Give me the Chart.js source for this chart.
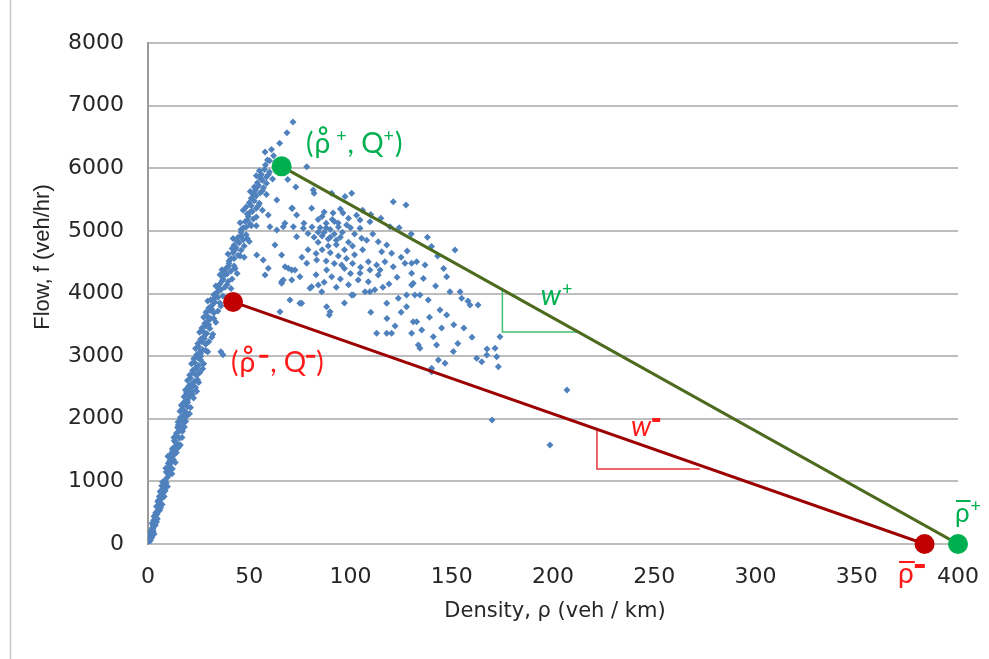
<!DOCTYPE html>
<html>
<head>
<meta charset="utf-8">
<script src="https://cdn.jsdelivr.net/npm/chart.js@4.4.0/dist/chart.umd.min.js"></script>
<style>
  html, body { margin: 0; padding: 0; background: #fff; }
  #wrap { width: 989px; height: 659px; }
</style>
</head>
<body>
<div id="wrap"><canvas id="chart" width="989" height="659"></canvas></div>
<script>
// density (veh/km), flow (veh/hr) pairs
const freeFlowPoints = [
  [0.5,30],[1,80],[1.5,120],[0.8,150],[2,190],[1.2,210],[2.5,240],[3,160],[1.8,100],[2.2,260],
  [2.5,300],[3.2,340],[2.8,380],[4,420],[3.5,460],[4.5,480],[3,440],[4.2,350],
  [4.5,520],[5.5,560],[5,610],[6,650],[5.2,700],[6.5,720],[4.8,680],[6.2,580],
  [6.5,780],[7.5,820],[7,870],[8.2,900],[7.8,950],[9,980],[6.8,930],[8.5,850],
  [8.5,1020],[9.5,1060],[10.2,1100],[9,1150],[11,1180],[10.5,1230],[8.8,1210],[11.8,1120],
  [10.5,1270],[11.5,1300],[12.5,1350],[11,1400],[13,1430],[12.2,1480],[14,1460],[10.8,1330],
  [12,1520],[13.5,1560],[14.5,1600],[13,1650],[15.5,1690],[14,1720],[16,1580],[12.8,1700],
  [14,1770],[15.5,1800],[16.5,1850],[15,1900],[17.5,1930],[16,1980],[18,1870],[14.8,1950],
  [16,2020],[17.5,2060],[18.5,2110],[17,2150],[19.5,2190],[18,2230],[20.5,2080],[16.8,2200],[16.5,2220],
  [18,2270],[19.5,2300],[20.5,2360],[19,2410],[21.5,2440],[20,2480],[22.5,2330],[18.5,2460],[24,2440],
  [20,2520],[21.5,2560],[23,2600],[21,2650],[24,2690],[22.5,2730],[19.5,2610],[25,2580],
  [22,2770],[23.5,2810],[25,2850],[23,2900],[26,2940],[24.5,2980],[21.5,2880],[27,2800],
  [24,3020],[25.5,3060],[27,3100],[25,3150],[28.5,3190],[26.5,3230],[23.5,3120],[29.5,3070],[36,3070],[37,3020],
  [26,3270],[27.5,3310],[29,3360],[27,3400],[30.5,3440],[28.5,3480],[25.5,3380],[31.5,3300],
  [28,3520],[29.5,3560],[31,3600],[29,3650],[32.5,3690],[30.5,3730],[27.5,3620],[33.5,3540],
  [30,3770],[31.5,3810],[33,3860],[31,3900],[34.5,3940],[32.5,3980],[29.5,3880],[36,3800],
  [34,4020],[36,4060],[38,4100],[35.5,4150],[39.5,4190],[37,4230],[33.5,4120],[41,4080],
  [37,4270],[39,4310],[41,4360],[38.5,4400],[42.5,4440],[40,4480],[36.5,4380],[44,4320],
  [40,4520],[42.5,4560],[44.5,4610],[42,4650],[46,4690],[43.5,4730],[39.5,4630],[47.5,4580],
  [42.5,4770],[45,4810],[47,4860],[44.5,4900],[48.5,4940],[46,4980],[42,4880],[50,4830],
  [46,5020],[48.5,5060],[50.5,5110],[48,5150],[52,5190],[49.5,5230],[45.5,5130],[53.5,5080],
  [49,5270],[51.5,5310],[53.5,5360],[51,5400],[55,5440],[52.5,5480],[48.5,5380],[56.5,5330],
  [51,5520],[53.5,5560],[55.5,5610],[53,5650],[57,5690],[54.5,5730],[50.5,5630],[58.5,5580],
  [54,5770],[56.5,5810],[58.5,5860],[56,5900],[60,5940],[57.5,5980],[53.5,5880],[61.5,5830],
  [58,6050],[60,6120],[59,6130],[57.8,6260],[65,6400],[68.6,6565],[71.6,6740],[62,6200],[63,6100],[61,6300]
];

// second pass over the same band, filling between the first readings
const freeFlowFill = [
  [1.2,60],[0.6,110],[2.6,200],[3.6,300],[2,330],[4.6,400],[3.8,500],
  [5.8,540],[4.2,600],[7,630],[5.6,760],[8,760],[7.2,990],[9.6,920],[6,840],
  [9.6,1140],[12,1200],[10,1290],[13.5,1300],[11.6,1450],[9.8,1400],[13.2,1520],
  [15,1540],[13.6,1620],[16.8,1700],[17,1800],[14.6,1860],[18.6,1960],[17,2000],
  [19,2040],[15.8,2120],[21,2180],[19.6,2260],[17.8,2350],[22,2390],[21,2470],[23.5,2500],
  [22,2540],[24.5,2620],[20.6,2700],[25.6,2740],[24,2800],[27.5,2880],[22.6,2960],[26,3000],
  [26,3040],[28.5,3090],[24.6,3200],[30,3230],[27.8,3280],[32,3350],[26.6,3450],[30,3500],
  [30,3580],[32.5,3600],[28.6,3700],[34.5,3720],[31.5,3750],[35.5,3850],[33,3930],[37,3960],
  [35,4080],[39,4140],[36.6,4200],[41.5,4230],[38,4330],[43,4400],[39.6,4430],[35.6,4300],
  [41,4560],[45.5,4600],[43,4700],[47.5,4760],[44,4840],[49,4880],[46,4920],[41.5,4720],
  [47,5050],[51,5080],[49,5170],[53.5,5220],[50.5,5300],[54.5,5400],[50,5450],[47,5330],
  [52,5580],[56.5,5640],[54,5700],[58.5,5760],[55.5,5840],[59.5,5900],[55,5960],[52.5,5700]
];

const congestedPoints = [
  [81.6,5653],[82,5600],[90.7,5600],[97.3,5547],[100.6,5600],[121.1,5467],[127.4,5414],[71,5361],[80.8,5361],
  [67.6,5121],[73.4,5254],[91.4,5286],[96.3,5286],[93.9,5126],[98.1,5094],[104.7,5174],[109.6,5147],[104.7,5041],
  [105.5,4882],[113.7,4828],[119.5,5067],[117.9,4775],[115.4,4668],[120.3,4642],[121.1,4429],[117,4508],
  [112.9,4455],[114.6,4376],[108.8,4508],[109.6,4376],[104.7,4323],[103.8,4216],[108.8,4189],[113.7,4296],
  [109.6,4029],[107.2,4029],[100.6,3976],[95.6,4455],[90.7,4269],[85.8,4029],[80.8,4109],[75,4269],[71,4216],
  [66.8,4216],[69.3,4402],[72.6,4376],[78.4,4482],[83.3,4535],[88.2,4376],[75.9,3844],[88.2,3790],[89.5,3657],
  [101.4,3976],[117.9,3844],[123.6,3924],[127.7,3976],[130.2,4136],[131.8,3976],[134.3,3976],[127.7,3790],
  [138.4,3897],[130.2,4323],[131,4163],[126.9,4482],[130.2,4482],[136.8,4455],[147.5,4269],[149.1,4029],
  [154.1,4029],[154.9,3924],[159,3817],[144.2,3737],[147.5,3657],[151.6,4695],[132.7,4508],[112.9,3364],
  [117.9,3364],[120.3,3364],[130.2,3364],[131,3550],[132.7,3550],[135.2,3418],[140.9,3311],[142.5,3178],
  [133.5,3178],[134.3,3125],[150.8,3072],[143.4,2938],[146.7,2886],[140.1,2806],[162.3,2966],[167.3,3018],
  [171.4,3125],[173.8,3311],[172.2,2991],[164.8,2912],[173,2832],[140.1,2752],[169.9,1980],[198.5,1581],
  [206.9,2459],[163,3817],[167.4,3114],
  [78.4,6025],[71.3,5361],[63.6,5494],[59.4,5254],[60.2,5067],[63.6,5014],[66.8,5067],[71.8,5067],[76.7,5041],
  [73.4,4908],[53.7,4616],[56.9,4535],[59.4,4402],[66,4616],[67.7,4429],[71,4376],[66,4189],[57.8,4296],
  [70.1,3897],[75,3844],[62.7,4775],[66,4163],[80,4083],[84.1,4136],[65.2,3710],[89.9,3710],[73,5700],[69,5820],
  [84,5180],[86,5230],[88,5120],[85,5050],[87,4980],[90,5020],[92,4950],[95,4900],[89,4870],[84,4820],[82,4900],
  [79,4960],[77,5120],[93,4780],[97,4700],[99,4820],[101,4760],[86,4700],[90,4650],[94,4600],[98,4560],[102,4620],
  [106,4700],[111,4950],[108,4850],[83,4640],[79,4700],[76,4580],[88,4520],[92,4480],[97,4400],[101,4480],
  [105,4420],[100,4320],[95,4230],[99,4140],[93,4100],[87,4180],[83,4300],[119,4150],[123,4260],[116,4100],
  [112,4060],[125,4580],[128,4680],[110,5260],[106,5330],[115,5200],[124,5050],[130,4950],[138,4900],[140,4750],
  [143,4600],[136,4240],[142,4120],[146,4400],[125,3700],[118,3600],[122,3480],[110,3700],[97,3850],[139,3620],
  [151,3500],[156,3450],[158,3880],[145,3450],[153,3200],[160,3300],
  [88,5050],[91,5180],[94,5060],[96,4980],[86,4920],[90,4900],[93,4850],[81,5060],[84,4980],[89,4760],
  [92,5150],[87,5300],[95,5350],[103,5250],[99,5200],[102,4950],[100,5050]
];

// fitted fundamental diagram: peak points and jam densities
const upperLine = [[66, 6030], [400, 0]];
const lowerLine = [[42, 3865], [383.5, 0]];
const greenMarks = [[66, 6030], [400, 0]];
const redMarks = [[42, 3865], [383.5, 0]];
const upperSlopeBox = [[175, 4062], [175, 3386], [213, 3386]];
const lowerSlopeBox = [[221.7, 1831], [221.7, 1198], [272.5, 1198]];

const xTicks = [0, 50, 100, 150, 200, 250, 300, 350, 400];
const yTicks = [0, 1000, 2000, 3000, 4000, 5000, 6000, 7000, 8000];

const toXY = arr => arr.map(p => ({ x: p[0], y: p[1] }));

const GREEN = '#00b050';
const RED = '#ff1a1a';
const LBL = 'Lato, "DejaVu Sans", sans-serif';

// text annotations, anchored in data units (left, baseline)
const annotations = [
  { at: [78, 6250], color: GREEN, runs: [
    { t: '(', f: '28px ' + LBL, gap: 1 }, { t: 'ρ', f: '28px ' + LBL, ring: true, gap: 6 },
    { t: '+', f: '18px ' + LBL, dy: -11, gap: 1 }, { t: ', Q', f: '28px ' + LBL },
    { t: '+', f: '18px ' + LBL, dy: -11, gap: 1 }, { t: ')', f: '28px ' + LBL }] },
  { at: [41, 2750], color: RED, runs: [
    { t: '(', f: '28px ' + LBL, gap: 1 }, { t: 'ρ', f: '28px ' + LBL, ring: true, gap: 4 },
    { rect: [9, 3], dy: -17, gap: 2 }, { t: ', Q', f: '28px ' + LBL },
    { rect: [9, 3], dy: -17, gap: 1 }, { t: ')', f: '28px ' + LBL }] },
  { at: [194, 3817], color: GREEN, runs: [
    { t: 'w', f: 'italic 28px ' + LBL, gap: 1 }, { t: '+', f: '18px ' + LBL, dy: -10 }] },
  { at: [238.5, 1725], color: RED, runs: [
    { t: 'w', f: 'italic 28px ' + LBL, gap: 1 }, { rect: [8, 4], dy: -18 }] },
  { at: [398.5, 351], color: GREEN, runs: [
    { t: 'ρ', f: '26px ' + LBL, bar: true, gap: 1 }, { t: '+', f: '18px ' + LBL, dy: -10 }] },
  { at: [370.4, -623], color: RED, runs: [
    { t: 'ρ', f: '28px ' + LBL, bar: true, gap: 1 }, { rect: [10, 4], dy: -19 }] }
];

const annotationPlugin = {
  id: 'annotations',
  beforeDraw(chart) {
    const ctx = chart.ctx;
    ctx.save();
    ctx.strokeStyle = '#c8c8c8';
    ctx.lineWidth = 1.5;
    ctx.beginPath();
    ctx.moveTo(10.5, 0);
    ctx.lineTo(10.5, 659);
    ctx.stroke();
    ctx.restore();
  },
  afterDraw(chart) {
    const ctx = chart.ctx;
    const xs = chart.scales.x, ys = chart.scales.y;
    ctx.save();
    ctx.textAlign = 'left';
    ctx.textBaseline = 'alphabetic';
    annotations.forEach(a => {
      let x = xs.getPixelForValue(a.at[0]);
      const y = ys.getPixelForValue(a.at[1]);
      ctx.fillStyle = a.color;
      ctx.strokeStyle = a.color;
      a.runs.forEach(r => {
        let w;
        if (r.rect) {
          ctx.fillRect(x, y + r.dy, r.rect[0], r.rect[1]);
          w = r.rect[0];
        } else {
          ctx.font = r.f;
          ctx.fillText(r.t, x, y + (r.dy || 0));
          w = ctx.measureText(r.t).width;
          if (r.ring) {
            ctx.lineWidth = 2;
            ctx.beginPath();
            ctx.arc(x + w * 0.55, y - 22, 3.3, 0, Math.PI * 2);
            ctx.stroke();
          }
          if (r.bar) {
            ctx.fillRect(x + 1, y - 22, w, 2);
          }
        }
        x += w + (r.gap || 0);
      });
    });

    // axis titles
    ctx.fillStyle = '#262626';
    ctx.font = '21px "DejaVu Sans", sans-serif';
    ctx.textAlign = 'center';
    ctx.textBaseline = 'middle';
    ctx.fillText('Density, ρ (veh / km)', 555, 612);
    ctx.save();
    ctx.translate(43, 257);
    ctx.rotate(-Math.PI / 2);
    ctx.font = '22px "Liberation Sans", Arial, sans-serif';
    ctx.fillText('Flow, f (veh/hr)', 0, 0);
    ctx.restore();
    ctx.restore();
  }
};

const pointStyleCommon = { pointStyle: 'rectRot', pointRadius: 3.5, pointBorderWidth: 0, showLine: false };

new Chart(document.getElementById('chart'), {
  type: 'scatter',
  data: {
    datasets: [
      { data: toXY(greenMarks), pointRadius: 10, pointBackgroundColor: GREEN, pointBorderWidth: 0, showLine: false, clip: false, order: 0 },
      { data: toXY(redMarks), pointRadius: 10, pointBackgroundColor: '#c00000', pointBorderWidth: 0, showLine: false, clip: false, order: 1 },
      { data: toXY(upperLine), showLine: true, borderColor: '#4d6b1f', borderWidth: 3, pointRadius: 0, order: 2 },
      { data: toXY(lowerLine), showLine: true, borderColor: '#9c0000', borderWidth: 3, pointRadius: 0, order: 3 },
      { data: toXY(upperSlopeBox), showLine: true, borderColor: '#3fbf6f', borderWidth: 1.5, pointRadius: 0, order: 4 },
      { data: toXY(lowerSlopeBox), showLine: true, borderColor: '#e5383b', borderWidth: 1.5, pointRadius: 0, order: 5 },
      Object.assign({ data: toXY(congestedPoints), pointBackgroundColor: '#4f81bd', order: 6 }, pointStyleCommon),
      Object.assign({ data: toXY(freeFlowPoints), pointBackgroundColor: '#4f81bd', order: 7 }, pointStyleCommon),
      Object.assign({ data: toXY(freeFlowFill), pointBackgroundColor: '#4f81bd', order: 8 }, pointStyleCommon)
    ]
  },
  options: {
    responsive: false,
    animation: false,
    layout: { padding: { left: 0, right: 31, top: 43, bottom: 0 } },
    plugins: { legend: { display: false }, tooltip: { enabled: false } },
    scales: {
      x: {
        type: 'linear', min: 0, max: 400,
        afterBuildTicks: s => { s.ticks = xTicks.map(v => ({ value: v })); },
        afterFit: s => { s.height = 115; s.paddingLeft = 0; s.paddingRight = 0; },
        grid: { display: false, drawTicks: false },
        border: { display: false },
        ticks: { padding: 20, color: '#262626', font: { family: 'DejaVu Sans', size: 22 }, maxRotation: 0, callback: v => String(v) }
      },
      y: {
        type: 'linear', min: 0, max: 8000,
        afterBuildTicks: s => { s.ticks = yTicks.map(v => ({ value: v })); },
        afterFit: s => { s.width = 148; s.paddingTop = 0; s.paddingBottom = 0; },
        grid: { color: '#bdbdbd', lineWidth: 2, drawTicks: false },
        border: { display: true, color: '#9a9a9a', width: 2 },
        ticks: { padding: 24, color: '#262626', font: { family: 'DejaVu Sans', size: 22 }, callback: v => String(v) }
      }
    }
  },
  plugins: [annotationPlugin]
});
</script>
</body>
</html>
